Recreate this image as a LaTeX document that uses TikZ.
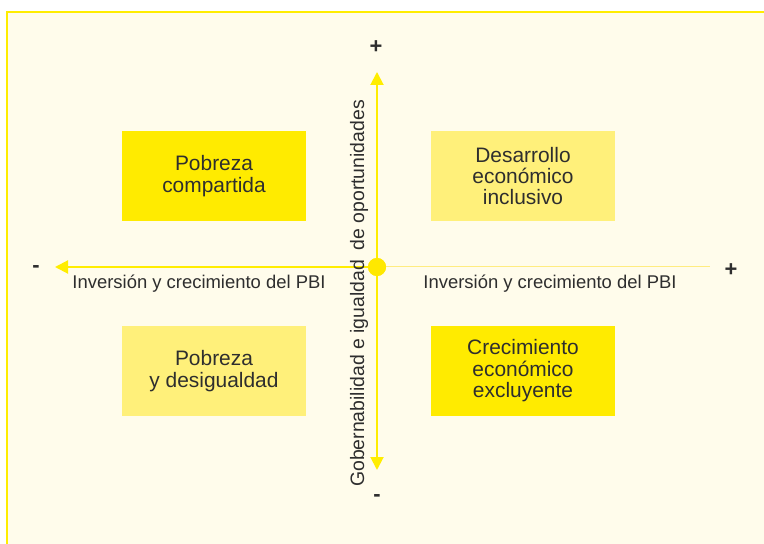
\documentclass[tikz,border=0pt]{standalone}
\usepackage{fontspec}
\setmainfont{Liberation Sans}
\usetikzlibrary{arrows.meta}
\definecolor{cream}{HTML}{FFFCEB}
\definecolor{ybord}{HTML}{FFED00}
\definecolor{ystrong}{HTML}{FFEB00}
\definecolor{ylight}{HTML}{FFF07A}
\definecolor{ytext}{HTML}{2E2E2E}
\definecolor{ythin}{HTML}{FFEC80}
\definecolor{ycirc}{HTML}{FFE800}
\begin{document}
\begin{tikzpicture}[x=1bp,y=-1bp,
  box/.style={minimum width=184bp, minimum height=90bp, inner sep=0pt, align=center,
    font=\fontsize{21}{21.5}\selectfont, text=ytext},
  strongbox/.style={box, fill=ystrong},
  lightbox/.style={box, fill=ylight},
  sign/.style={font=\fontsize{22}{22}\selectfont\bfseries, text=ytext, inner sep=0pt},
  axlabel/.style={font=\fontsize{18.5}{20}\selectfont, text=ytext, inner sep=0pt},
  axisline/.style={draw=ybord, line width=2bp},
  tip/.style={-{Triangle[length=13bp,width=13bp]}}
]
\useasboundingbox (0,0) rectangle (764,544);
\clip (0,0) rectangle (764,544);
\fill[white] (0,0) rectangle (764,544);
\draw[ybord, line width=2bp, fill=cream] (7,12) rectangle (790,570);

% boxes
\node[strongbox] (tl) at (214,176) {Pobreza\\compartida};
\node[lightbox]  (tr) at (523,176) {Desarrollo\\económico\\inclusivo};
\node[lightbox]  (bl) at (214,371) {Pobreza\\y desigualdad};
\node[strongbox] (br) at (523,371) {Crecimiento\\económico\\excluyente};

% axes
\node[circle, fill=ycirc, minimum size=18bp, inner sep=0pt] (c) at (377,267) {};
\coordinate (top) at (377,72);
\coordinate (bot) at (377,470);
\coordinate (left) at (55,267);
\coordinate (right) at (710,267);
\draw[draw=ythin, line width=1bp] (c) -- (right);
\draw[axisline, tip] (c) -- (left);
\draw[axisline, tip] (c) -- (top);
\draw[axisline, tip] (c) -- (bot);
\node[circle, fill=ycirc, minimum size=18bp, inner sep=0pt] at (c) {};

% axis labels
\node[axlabel, anchor=base] (lx) at (199,289) {Inversión y crecimiento del PBI};
\node[axlabel, anchor=base] (rx) at (550,289) {Inversión y crecimiento del PBI};
\node[axlabel, anchor=base, rotate=90, font=\fontsize{19.5}{20}\selectfont] (vy) at (364,293.5)
  {Gobernabilidad e igualdad\hspace{0.5em}de oportunidades};

% signs
\node[sign] (ptop) at (376,47) {+};
\node[sign] (mbot) at (377,498) {-};
\node[sign] (mleft) at (36,269) {-};
\node[sign] (pright) at (731,270) {+};
\end{tikzpicture}
\end{document}
